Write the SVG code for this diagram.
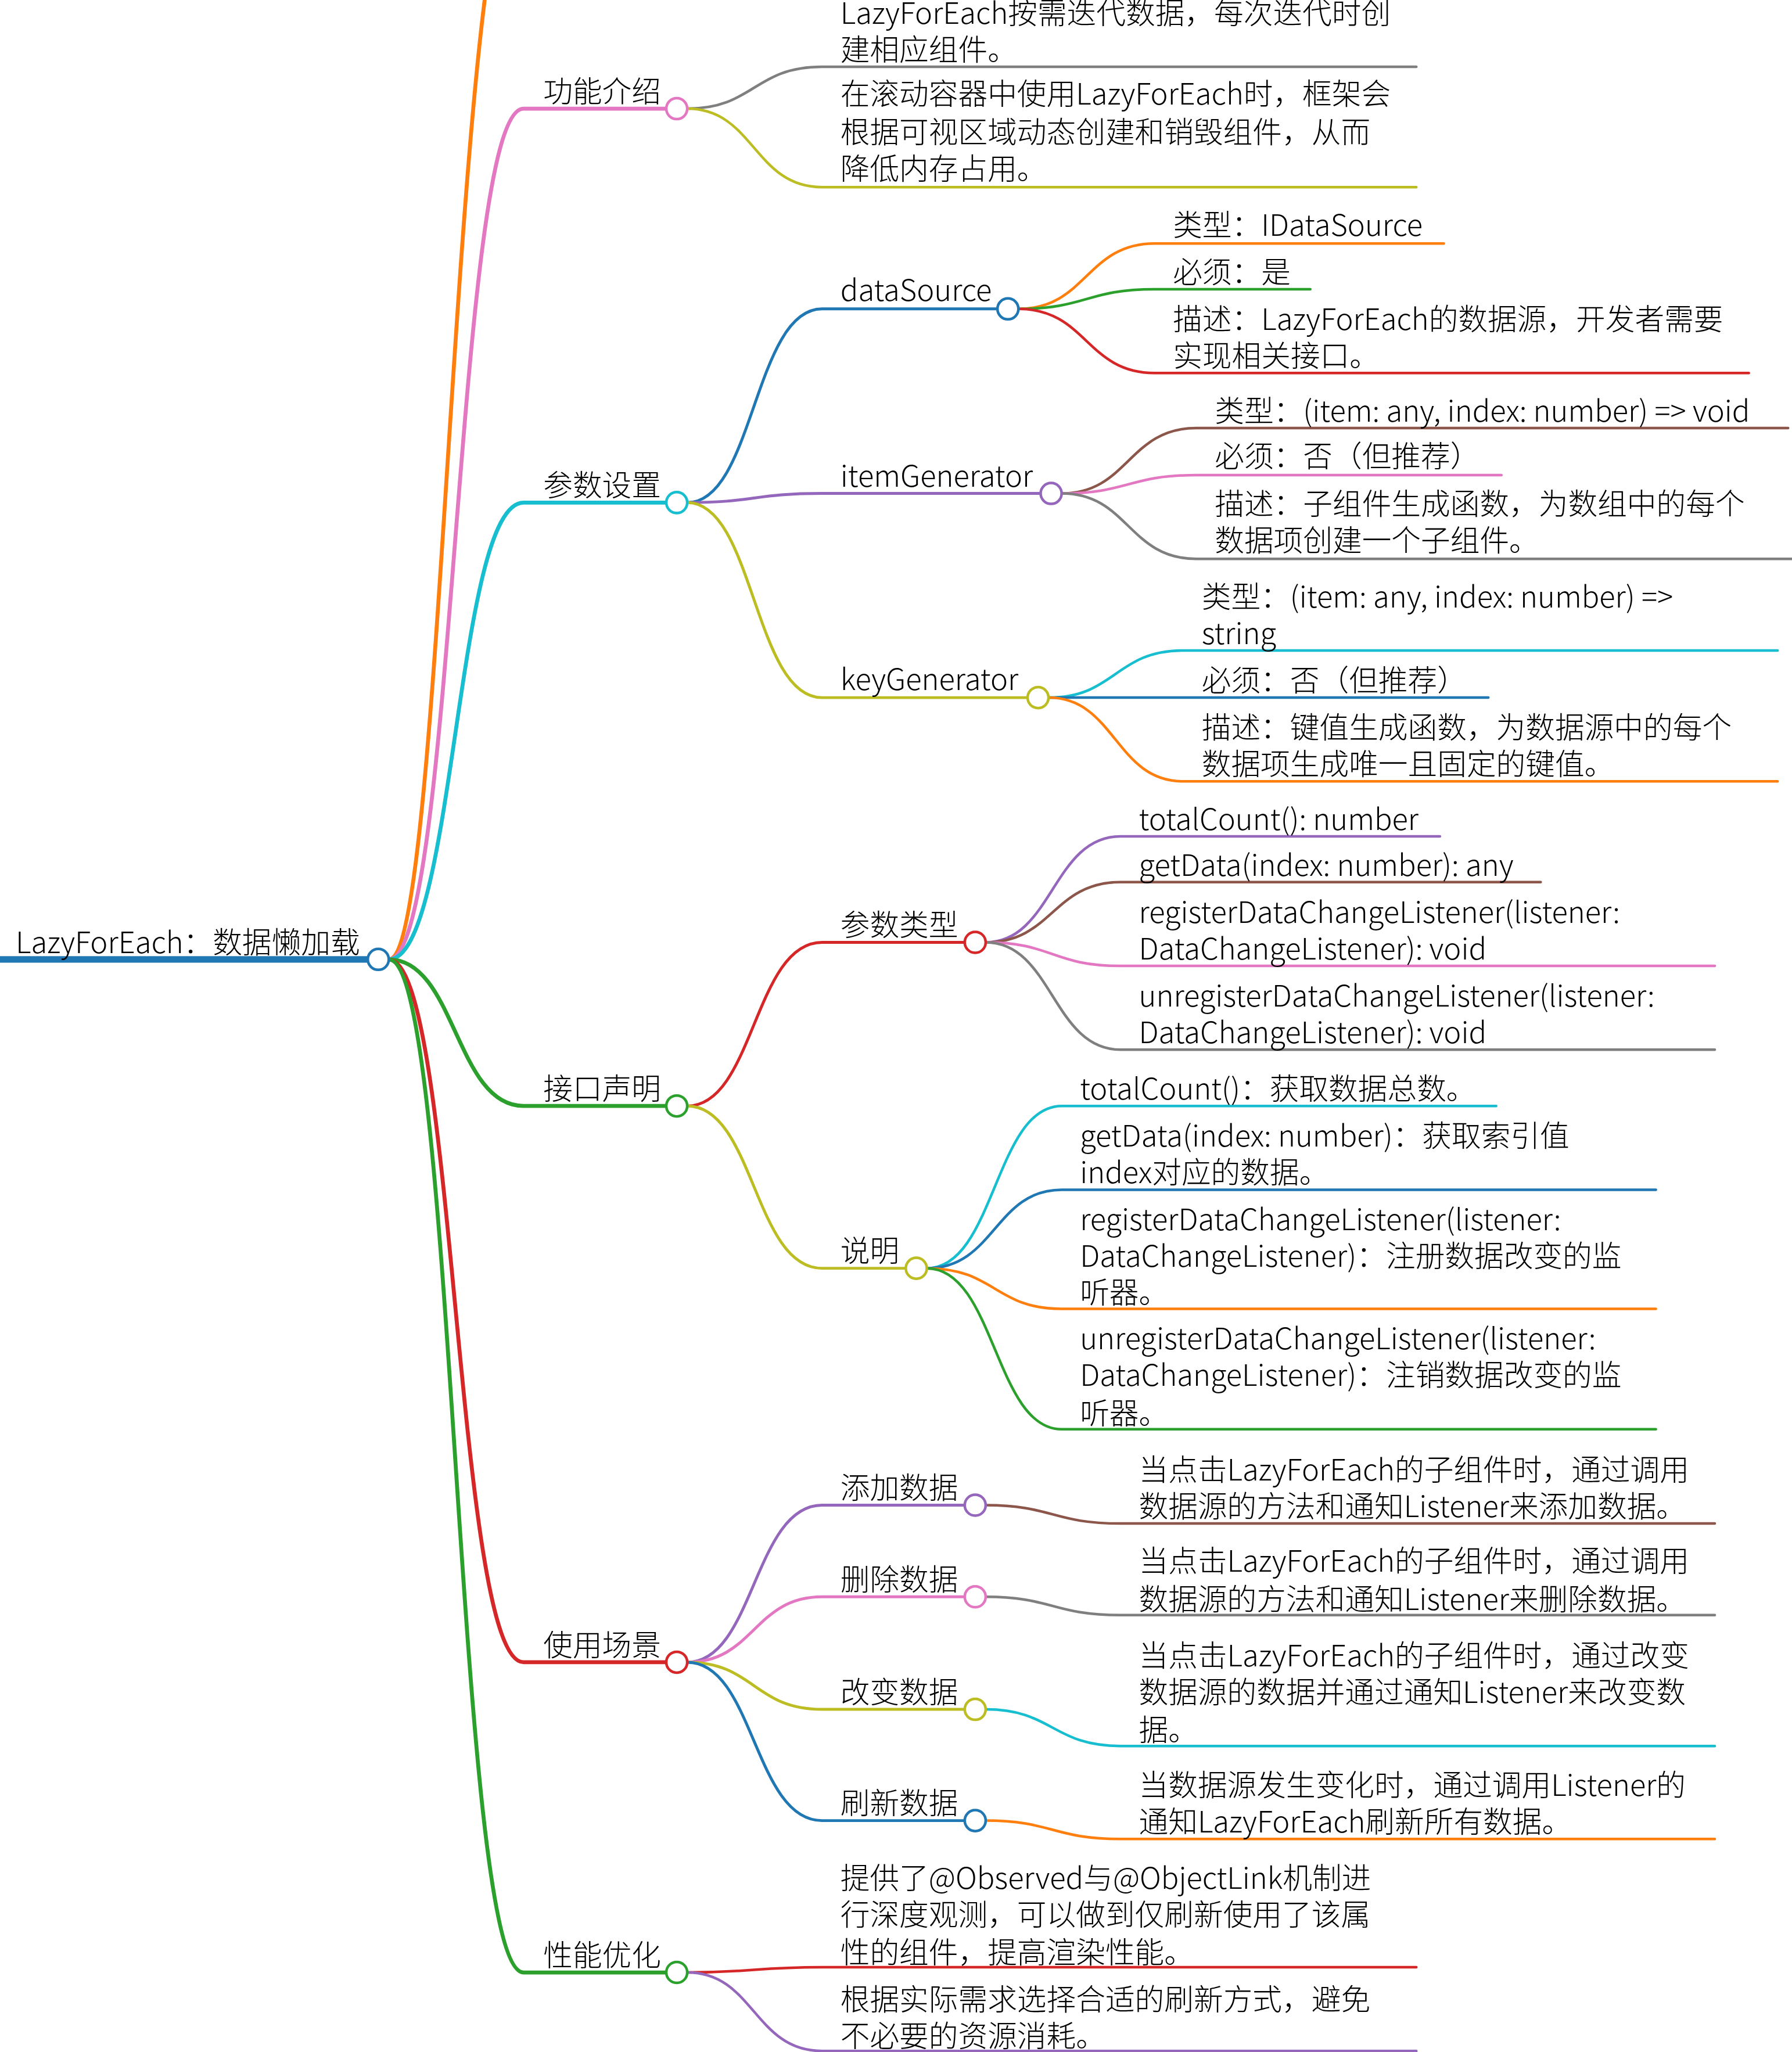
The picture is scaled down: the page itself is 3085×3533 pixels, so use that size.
<svg xmlns="http://www.w3.org/2000/svg" width="3085" height="3533" viewBox="0 0 3085 3533">
<style>
text{font-family:"Noto Sans CJK SC","Noto Sans",sans-serif;font-weight:300;font-size:22.5px;fill:#000}
path{fill:none;stroke-linecap:round}
.l1{stroke-width:3}.l2{stroke-width:2.2}.lf{stroke-width:2}
circle{fill:#fff;stroke-width:2}
</style>
<rect width="3085" height="3533" fill="#fff"/>
<g transform="scale(2.2535)">
<g id="connectors">
<path d="M0 733 L281 733" stroke="#1f77b4" stroke-width="5"/>
<path class="l1" stroke="#ff7f0e" d="M297 733 C340 733 345 -80 400 -120"/>
<path class="l1" stroke="#e377c2" d="M297 733 C348 733 348 83 400 83 L509 83"/>
<path class="l1" stroke="#17becf" d="M297 733 C348 733 348 384 400 384 L509 384"/>
<path class="l1" stroke="#2ca02c" d="M297 733 C348 733 348 845 400 845 L509 845"/>
<path class="l1" stroke="#d62728" d="M297 733 C348 733 348 1270 400 1270 L509 1270"/>
<path class="l1" stroke="#2ca02c" d="M297 733 C348 733 348 1507 400 1507 L509 1507"/>
<path class="lf" stroke="#7f7f7f" d="M525 83 C576 83 576 51 628 51 L1082 51"/>
<path class="lf" stroke="#bcbd22" d="M525 83 C576 83 576 143 628 143 L1082 143"/>
<path class="l2" stroke="#1f77b4" d="M525 384 C576 384 576 236 628 236 L762 236"/>
<path class="l2" stroke="#9467bd" d="M525 384 C576 384 576 377 628 377 L795 377"/>
<path class="l2" stroke="#bcbd22" d="M525 384 C576 384 576 533 628 533 L785 533"/>
<path class="lf" stroke="#ff7f0e" d="M778 236 C830 236 830 186 882 186 L1103 186"/>
<path class="lf" stroke="#2ca02c" d="M778 236 C830 236 830 221 882 221 L1001 221"/>
<path class="lf" stroke="#d62728" d="M778 236 C830 236 830 285 882 285 L1336 285"/>
<path class="lf" stroke="#8c564b" d="M811 377 C862 377 862 327 914 327 L1366 327"/>
<path class="lf" stroke="#e377c2" d="M811 377 C862 377 862 363 914 363 L1147 363"/>
<path class="lf" stroke="#7f7f7f" d="M811 377 C862 377 862 427 914 427 L1369 427"/>
<path class="lf" stroke="#17becf" d="M801 533 C852 533 852 497 904 497 L1358 497"/>
<path class="lf" stroke="#1f77b4" d="M801 533 C852 533 852 533 904 533 L1137 533"/>
<path class="lf" stroke="#ff7f0e" d="M801 533 C852 533 852 597 904 597 L1358 597"/>
<path class="l2" stroke="#d62728" d="M525 845 C576 845 576 720 628 720 L737 720"/>
<path class="l2" stroke="#bcbd22" d="M525 845 C576 845 576 969 628 969 L692 969"/>
<path class="lf" stroke="#9467bd" d="M753 720 C804 720 804 639 856 639 L1100 639"/>
<path class="lf" stroke="#8c564b" d="M753 720 C804 720 804 674 856 674 L1177 674"/>
<path class="lf" stroke="#e377c2" d="M753 720 C804 720 804 738 856 738 L1310 738"/>
<path class="lf" stroke="#7f7f7f" d="M753 720 C804 720 804 802 856 802 L1310 802"/>
<path class="lf" stroke="#17becf" d="M708 969 C760 969 760 845 811 845 L1143 845"/>
<path class="lf" stroke="#1f77b4" d="M708 969 C760 969 760 909 811 909 L1265 909"/>
<path class="lf" stroke="#ff7f0e" d="M708 969 C760 969 760 1000 811 1000 L1265 1000"/>
<path class="lf" stroke="#2ca02c" d="M708 969 C760 969 760 1092 811 1092 L1265 1092"/>
<path class="l2" stroke="#9467bd" d="M525 1270 C576 1270 576 1150 628 1150 L737 1150"/>
<path class="l2" stroke="#e377c2" d="M525 1270 C576 1270 576 1220 628 1220 L737 1220"/>
<path class="l2" stroke="#bcbd22" d="M525 1270 C576 1270 576 1306 628 1306 L737 1306"/>
<path class="l2" stroke="#1f77b4" d="M525 1270 C576 1270 576 1391 628 1391 L737 1391"/>
<path class="lf" stroke="#8c564b" d="M753 1150 C804 1150 804 1164 856 1164 L1310 1164"/>
<path class="lf" stroke="#7f7f7f" d="M753 1220 C804 1220 804 1234 856 1234 L1310 1234"/>
<path class="lf" stroke="#17becf" d="M753 1306 C804 1306 804 1334 856 1334 L1310 1334"/>
<path class="lf" stroke="#ff7f0e" d="M753 1391 C804 1391 804 1405 856 1405 L1310 1405"/>
<path class="lf" stroke="#d62728" d="M525 1507 C576 1507 576 1503 628 1503 L1082 1503"/>
<path class="lf" stroke="#9467bd" d="M525 1507 C576 1507 576 1567 628 1567 L1082 1567"/>
</g>
<g id="root"><text x="12" y="728">LazyForEach：数据懒加载</text><circle cx="289" cy="733" r="8" stroke="#1f77b4" stroke-width="2.5"/></g>
<g id="n-gnjs"><text x="415" y="78">功能介绍</text><circle cx="517" cy="83" r="8" stroke="#e377c2"/></g>
<g id="n-cssz"><text x="415" y="379">参数设置</text><circle cx="517" cy="384" r="8" stroke="#17becf"/></g>
<g id="n-jksm"><text x="415" y="840">接口声明</text><circle cx="517" cy="845" r="8" stroke="#2ca02c"/></g>
<g id="n-sycj"><text x="415" y="1265">使用场景</text><circle cx="517" cy="1270" r="8" stroke="#d62728"/></g>
<g id="n-xnyh"><text x="415" y="1502">性能优化</text><circle cx="517" cy="1507" r="8" stroke="#2ca02c"/></g>
<g id="t-gn1"><text x="642" y="18">LazyForEach按需迭代数据，每次迭代时创</text><text x="642" y="46">建相应组件。</text></g>
<g id="t-gn2"><text x="642" y="80">在滚动容器中使用LazyForEach时，框架会</text><text x="642" y="109">根据可视区域动态创建和销毁组件，从而</text><text x="642" y="137">降低内存占用。</text></g>
<g id="n-ds"><text x="642" y="230">dataSource</text><circle cx="770" cy="236" r="8" stroke="#1f77b4"/></g>
<g id="t-ds1"><text x="896" y="180">类型：IDataSource</text></g>
<g id="t-ds2"><text x="896" y="216">必须：是</text></g>
<g id="t-ds3"><text x="896" y="252">描述：LazyForEach的数据源，开发者需要</text><text x="896" y="280">实现相关接口。</text></g>
<g id="n-ig"><text x="642" y="372">itemGenerator</text><circle cx="803" cy="377" r="8" stroke="#9467bd"/></g>
<g id="t-ig1"><text x="928" y="322">类型：(item: any, index: number) =&gt; void</text></g>
<g id="t-ig2"><text x="928" y="357">必须：否（但推荐）</text></g>
<g id="t-ig3"><text x="928" y="393">描述：子组件生成函数，为数组中的每个</text><text x="928" y="421">数据项创建一个子组件。</text></g>
<g id="n-kg"><text x="642" y="527">keyGenerator</text><circle cx="793" cy="533" r="8" stroke="#bcbd22"/></g>
<g id="t-kg1"><text x="918" y="464">类型：(item: any, index: number) =&gt;</text><text x="918" y="492">string</text></g>
<g id="t-kg2"><text x="918" y="528">必须：否（但推荐）</text></g>
<g id="t-kg3"><text x="918" y="564">描述：键值生成函数，为数据源中的每个</text><text x="918" y="592">数据项生成唯一且固定的键值。</text></g>
<g id="n-cslx"><text x="642" y="715">参数类型</text><circle cx="745" cy="720" r="8" stroke="#d62728"/></g>
<g id="t-lx1"><text x="870" y="634">totalCount(): number</text></g>
<g id="t-lx2"><text x="870" y="669">getData(index: number): any</text></g>
<g id="t-lx3"><text x="870" y="705">registerDataChangeListener(listener:</text><text x="870" y="733">DataChangeListener): void</text></g>
<g id="t-lx4"><text x="870" y="769">unregisterDataChangeListener(listener:</text><text x="870" y="797">DataChangeListener): void</text></g>
<g id="n-sm"><text x="642" y="964">说明</text><circle cx="700" cy="969" r="8" stroke="#bcbd22"/></g>
<g id="t-sm1"><text x="825" y="840">totalCount()：获取数据总数。</text></g>
<g id="t-sm2"><text x="825" y="876">getData(index: number)：获取索引值</text><text x="825" y="904">index对应的数据。</text></g>
<g id="t-sm3"><text x="825" y="940">registerDataChangeListener(listener:</text><text x="825" y="968">DataChangeListener)：注册数据改变的监</text><text x="825" y="996">听器。</text></g>
<g id="t-sm4"><text x="825" y="1031">unregisterDataChangeListener(listener:</text><text x="825" y="1059">DataChangeListener)：注销数据改变的监</text><text x="825" y="1088">听器。</text></g>
<g id="n-tj"><text x="642" y="1145">添加数据</text><circle cx="745" cy="1150" r="8" stroke="#9467bd"/></g>
<g id="t-tj"><text x="870" y="1131">当点击LazyForEach的子组件时，通过调用</text><text x="870" y="1159">数据源的方法和通知Listener来添加数据。</text></g>
<g id="n-sc"><text x="642" y="1215">删除数据</text><circle cx="745" cy="1220" r="8" stroke="#e377c2"/></g>
<g id="t-sc"><text x="870" y="1201">当点击LazyForEach的子组件时，通过调用</text><text x="870" y="1230">数据源的方法和通知Listener来删除数据。</text></g>
<g id="n-gb"><text x="642" y="1301">改变数据</text><circle cx="745" cy="1306" r="8" stroke="#bcbd22"/></g>
<g id="t-gb"><text x="870" y="1273">当点击LazyForEach的子组件时，通过改变</text><text x="870" y="1301">数据源的数据并通过通知Listener来改变数</text><text x="870" y="1330">据。</text></g>
<g id="n-sx"><text x="642" y="1386">刷新数据</text><circle cx="745" cy="1391" r="8" stroke="#1f77b4"/></g>
<g id="t-sx"><text x="870" y="1372">当数据源发生变化时，通过调用Listener的</text><text x="870" y="1400">通知LazyForEach刷新所有数据。</text></g>
<g id="t-xn1"><text x="642" y="1443">提供了@Observed与@ObjectLink机制进</text><text x="642" y="1471">行深度观测，可以做到仅刷新使用了该属</text><text x="642" y="1500">性的组件，提高渲染性能。</text></g>
<g id="t-xn2"><text x="642" y="1536">根据实际需求选择合适的刷新方式，避免</text><text x="642" y="1564">不必要的资源消耗。</text></g>
</g>
</svg>
